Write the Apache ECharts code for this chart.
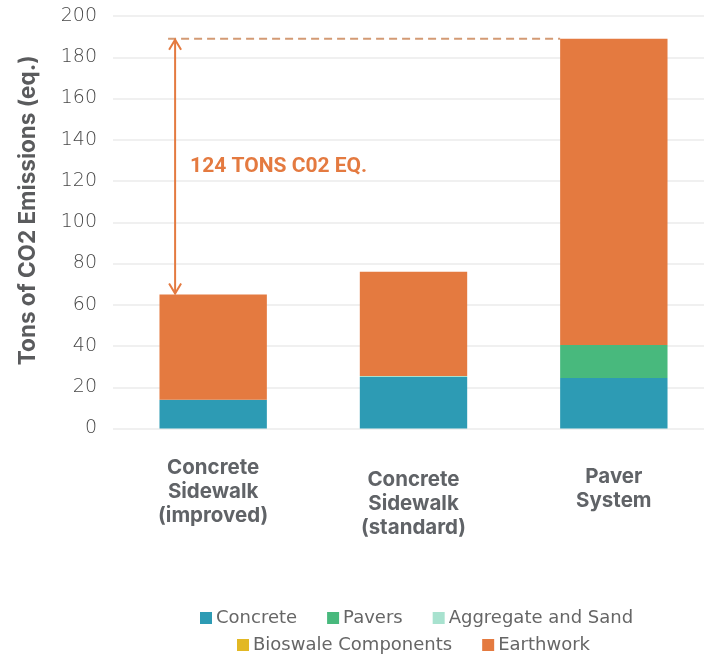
<!DOCTYPE html>
<html>
<head>
<meta charset="utf-8">
<script src="https://cdn.jsdelivr.net/npm/echarts@6/dist/echarts.min.js"></script>
<style>
  html, body { margin: 0; padding: 0; background: #ffffff; }
  #chart { width: 704px; height: 655px; }
</style>
</head>
<body>
<div id="chart"></div>
<script>
// Categories and stacked emission components (tons CO2 eq.)
const categories = ['Concrete\nSidewalk\n(improved)', 'Concrete\nSidewalk\n(standard)', 'Paver\nSystem'];
const concrete  = [14, 25, 24.5];
const pavers    = [0, 0, 16];
const aggregate = [0, 0.5, 0];
const bioswale  = [0, 0, 0];
const earthwork = [51, 50.5, 148.5];
const yTicks    = [0, 20, 40, 60, 80, 100, 120, 140, 160, 180, 200];

const seriesNames = ['Concrete', 'Pavers', 'Aggregate and Sand', 'Bioswale Components', 'Earthwork'];
const seriesData  = [concrete, pavers, aggregate, bioswale, earthwork];
const seriesColors = ['#2d9bb4', '#48b97d', '#a8e2cf', '#e2b824', '#e47a40'];

const totals = categories.map((_, i) => seriesData.reduce((s, arr) => s + arr[i], 0));
const savings = Math.round(totals[2] - totals[0]);

// Layout of the comparison bracket, in category units (0 = first category centre)
const BAR_FRACTION = 0.536;
const arrowX = -0.19;
const dashStartX = -0.225;
const dashEndX = 2 - BAR_FRACTION / 2;

const chart = echarts.init(document.getElementById('chart'), null, { renderer: 'canvas' });

const barSeries = seriesNames.map((name, k) => ({
  name: name,
  type: 'bar',
  stack: 'total',
  barWidth: (BAR_FRACTION * 100) + '%',
  itemStyle: { color: seriesColors[k] },
  data: seriesData[k]
}));

const labelPad = [0, 12, 9];
const ANNOT = '#e47a40';
const legendText = { color: '#666', fontSize: 18, fontFamily: 'DejaVu Sans', padding: [0, 0, 0, -1] };

const option = {
  backgroundColor: '#ffffff',
  animation: false,
  grid: { left: 113, width: 601, top: 16, bottom: 226.5, outerBoundsMode: 'none', containLabel: false },
  legend: [
    {
      data: seriesNames.slice(0, 3),
      top: 604, left: 195,
      icon: 'rect', itemWidth: 12, itemHeight: 12, itemGap: 30,
      textStyle: legendText
    },
    {
      data: seriesNames.slice(3),
      top: 631, left: 232,
      icon: 'rect', itemWidth: 12, itemHeight: 12, itemGap: 30,
      textStyle: legendText
    }
  ],
  xAxis: [
    {
      type: 'category',
      data: categories.map((c, i) => ({
        value: c,
        textStyle: { padding: [labelPad[i], 0, 0, 0] }
      })),
      axisLine: { show: false },
      axisTick: { show: false },
      axisLabel: {
        interval: 0,
        margin: 27,
        color: '#606367',
        fontSize: 20.5,
        fontWeight: 'bold',
        fontFamily: 'Inter',
        lineHeight: 24
      }
    },
    { type: 'value', min: -0.5, max: 2.5, show: false }
  ],
  yAxis: {
    type: 'value',
    min: yTicks[0],
    max: yTicks[yTicks.length - 1],
    interval: yTicks[1] - yTicks[0],
    name: 'Tons of CO2 Emissions (eq.)',
    nameLocation: 'middle',
    nameGap: 73,
    nameTextStyle: { color: '#5a5b5d', fontSize: 22.5, fontWeight: 'bold', fontFamily: 'Inter', padding: [0, 0, 0, 24] },
    axisLine: { show: false },
    axisTick: { show: false },
    axisLabel: { color: '#484848', fontSize: 19, fontFamily: 'DejaVu Sans', fontWeight: 300, margin: 16 },
    splitLine: { lineStyle: { color: '#ebebeb', width: 1.5 } }
  },
  series: barSeries.concat([{
    type: 'custom',
    xAxisIndex: 1,
    yAxisIndex: 0,
    clip: false,
    silent: true,
    data: [[arrowX, totals[2], totals[0], dashStartX, dashEndX]],
    renderItem: function (params, api) {
      const top = api.coord([api.value(0), api.value(1)]);
      const bot = api.coord([api.value(0), api.value(2)]);
      const dStart = api.coord([api.value(3), api.value(1)]);
      const dEnd = api.coord([api.value(4), api.value(1)]);
      const hw = 6, hh = 11;
      const stroke = { stroke: ANNOT, lineWidth: 2, fill: null };
      return {
        type: 'group',
        children: [
          {
            type: 'line',
            shape: { x1: dStart[0], y1: dStart[1], x2: dEnd[0], y2: dEnd[1] },
            style: { stroke: '#d39a74', lineWidth: 2, lineDash: [8, 5] }
          },
          {
            type: 'line',
            shape: { x1: top[0], y1: top[1] + 1, x2: bot[0], y2: bot[1] - 1 },
            style: stroke
          },
          {
            type: 'polyline',
            shape: { points: [[top[0] - hw, top[1] + hh], [top[0], top[1] + 1], [top[0] + hw, top[1] + hh]] },
            style: stroke
          },
          {
            type: 'polyline',
            shape: { points: [[bot[0] - hw, bot[1] - hh], [bot[0], bot[1] - 1], [bot[0] + hw, bot[1] - hh]] },
            style: stroke
          },
          {
            type: 'text',
            x: top[0] + 15,
            y: (top[1] + bot[1]) / 2,
            style: {
              text: savings + ' TONS C02 EQ.',
              fill: ANNOT,
              fontSize: 21,
              fontWeight: 'bold',
              fontFamily: 'Roboto',
              verticalAlign: 'middle',
              align: 'left'
            }
          }
        ]
      };
    }
  }])
};

chart.setOption(option);
</script>
</body>
</html>
